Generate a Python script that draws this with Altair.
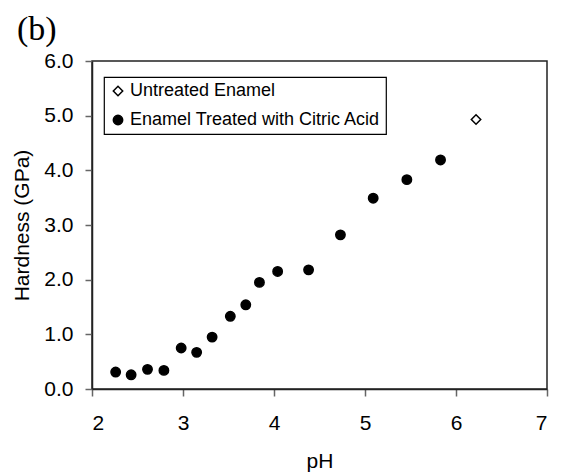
import altair as alt
import pandas as pd

# Treated enamel (citric acid)
treated_ph = [2.26, 2.43, 2.61, 2.79, 2.98, 3.15, 3.32, 3.52, 3.69, 3.84,
              4.04, 4.38, 4.73, 5.09, 5.46, 5.83]
treated_hardness = [0.31, 0.26, 0.36, 0.34, 0.75, 0.67, 0.95, 1.33, 1.54, 1.95,
                    2.15, 2.18, 2.82, 3.49, 3.83, 4.19]
# Untreated enamel
untreated_ph = [6.22]
untreated_hardness = [4.93]

series_names = ["Untreated Enamel", "Enamel Treated with Citric Acid"]
x_ticks = [2, 3, 4, 5, 6, 7]
y_ticks = [0, 1, 2, 3, 4, 5, 6]

df = pd.DataFrame({
    "pH": untreated_ph + treated_ph,
    "Hardness": untreated_hardness + treated_hardness,
    "Series": [series_names[0]] * len(untreated_ph) + [series_names[1]] * len(treated_ph),
})

font = "Liberation Sans"
leg = alt.Legend(orient="none", legendX=12, legendY=16, title=None)

chart = alt.Chart(df).mark_point(filled=True, opacity=1, size=88, strokeWidth=1.5).encode(
    x=alt.X("pH:Q", title="pH",
            scale=alt.Scale(domain=[2, 7], nice=False, zero=False),
            axis=alt.Axis(values=x_ticks, format="d", titleY=78, titleBaseline="alphabetic",
                          labelPadding=16)),
    y=alt.Y("Hardness:Q", title="Hardness (GPa)",
            scale=alt.Scale(domain=[0, 6], nice=False),
            axis=alt.Axis(values=y_ticks, format=".1f", titleX=-64, titleBaseline="alphabetic",
                          labelPadding=12)),
    shape=alt.Shape("Series:N", scale=alt.Scale(domain=series_names, range=["diamond", "circle"]),
                    legend=leg),
    fill=alt.Fill("Series:N", scale=alt.Scale(domain=series_names, range=["white", "black"]),
                  legend=leg),
    stroke=alt.Stroke("Series:N", scale=alt.Scale(domain=series_names, range=["black", "black"]),
                      legend=leg),
).properties(
    width=455,
    height=328,
    autosize=alt.AutoSizeParams(type="none"),
    padding={"left": 84, "top": 53, "right": 2, "bottom": 85},
    title=alt.TitleParams("(b)", anchor="start", frame="group",
                          font="Liberation Serif, Times New Roman, serif",
                          fontSize=34, fontWeight="normal", dx=-75, offset=25, dy=49,
                          baseline="alphabetic", color="black"),
).configure_title(
    font="Liberation Serif, Times New Roman, serif", fontSize=34, fontWeight="normal",
).configure_view(
    stroke="#222222", strokeWidth=1.5
).configure_axis(
    grid=False,
    domainColor="#222222", domainWidth=1.5,
    tickColor="#666666", tickWidth=1.5, tickSize=7,
    labelFont=font, labelFontSize=21, labelColor="black",
    titleFont=font, titleFontSize=21, titleFontWeight="normal", titleColor="black",
).configure_legend(
    strokeColor="black", fillColor="white", padding=5, rowPadding=11,
    labelFont=font, labelFontSize=18, labelColor="black", labelOffset=3, labelLimit=0,
    symbolSize=88, symbolStrokeWidth=1.5, symbolOpacity=1,
    cornerRadius=0, strokeWidth=1.2,
)

chart.save("out.html", embed_options={"renderer": "svg", "actions": False})
